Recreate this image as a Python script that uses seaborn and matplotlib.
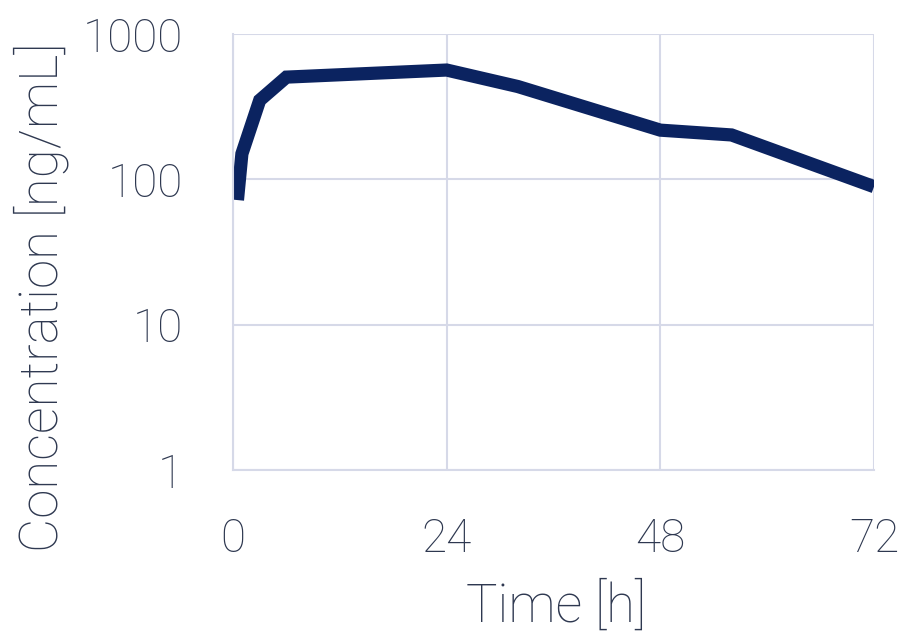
import matplotlib
matplotlib.use("Agg")
import matplotlib.pyplot as plt
import seaborn as sns
import pandas as pd

# Concentration-time profile
time_h = [0.5, 1, 3, 6, 24, 32, 48, 56, 72]
conc_ng_ml = [72, 150, 350, 505, 565, 435, 218, 202, 89]

x_ticks = [0, 24, 48, 72]
y_ticks = [1, 10, 100, 1000]
y_tick_labels = ["1", "10", "100", "1000"]

line_color = "#0b2360"
text_color = "#2e3850"
grid_color = "#d6d9e8"

sns.set_theme(style="white")
plt.rcParams["font.family"] = ["Roboto", "DejaVu Sans"]

df = pd.DataFrame({"time": time_h, "conc": conc_ng_ml})

fig = plt.figure(figsize=(9.07, 6.39), dpi=100)
ax = fig.add_axes([233 / 907, 1 - 470 / 639, (874 - 233) / 907, (470 - 34) / 639])

sns.lineplot(data=df, x="time", y="conc", ax=ax, color=line_color,
             linewidth=9.5, solid_joinstyle="miter", solid_capstyle="butt")

ax.set_yscale("log")
ax.set_xlim(0, 72)
ax.set_ylim(1, 1000)
ax.set_xticks(x_ticks)
ax.set_xticklabels([str(t) for t in x_ticks])
ax.set_yticks(y_ticks)
ax.set_yticklabels(y_tick_labels)
ax.minorticks_off()

ax.grid(True, color=grid_color, linewidth=1.5)
ax.set_axisbelow(True)
for side in ["top", "right"]:
    ax.spines[side].set_visible(False)
for side in ["left", "bottom"]:
    ax.spines[side].set_color(grid_color)
    ax.spines[side].set_linewidth(1.5)

ax.tick_params(axis="both", length=0, labelsize=33, labelcolor=text_color)
ax.tick_params(axis="y", pad=36)
ax.tick_params(axis="x", pad=34)
for lbl in ax.get_xticklabels() + ax.get_yticklabels():
    lbl.set_fontweight("light")

ax.set_xlabel("")
ax.set_ylabel("")
fig.text(556 / 907, 1 - 607 / 639, "Time [h]", ha="center", va="center",
         fontsize=38, color=text_color, fontweight="light")
fig.text(41 / 907, 1 - 297 / 639, "Concentration [ng/mL]", ha="center", va="center",
         rotation=90, fontsize=38, color=text_color, fontweight="light")

fig.savefig("out.png", dpi=100, facecolor="white")
